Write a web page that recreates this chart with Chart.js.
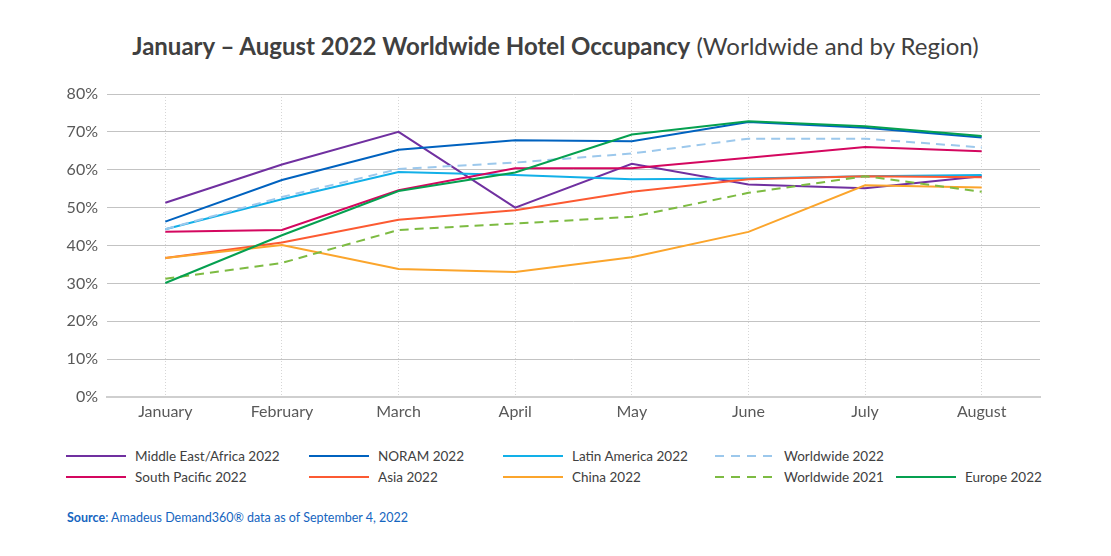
<!DOCTYPE html>
<html>
<head>
<meta charset="utf-8">
<script src="https://cdn.jsdelivr.net/npm/chart.js@4.4.0/dist/chart.umd.min.js"></script>
<style>
  body { margin: 0; background: #fff; }
  #wrap { position: relative; width: 1111px; height: 556px; font-family: Lato, "Open Sans", sans-serif; }
  #title { position: absolute; left: 0; top: 31px; width: 1111px; text-align: center; font-size: 24px; color: #404040; white-space: nowrap; }
  #title b { font-weight: 700; }
  #chart { position: absolute; left: 0; top: 0; }
  .lg { position: absolute; height: 20px; font-size: 13.5px; color: #404040; white-space: nowrap; line-height: 20px; }
  .lg span.sw { position: absolute; left: 0; top: 9px; width: 60px; height: 2px; }
  .lg span.tx { position: absolute; left: 69px; top: 0; }
  #source { position: absolute; left: 67px; top: 510px; font-size: 12.5px; color: #1565c0; }
</style>
</head>
<body>
<div id="wrap">
  <div id="title"><b>January – August 2022 Worldwide Hotel Occupancy</b> (Worldwide and by Region)</div>
  <canvas id="chart" width="1111" height="440"></canvas>
  <div id="legend"></div>
  <div id="source"><b>Source</b>: Amadeus Demand360® data as of September 4, 2022</div>
</div>
<script>
// months on the x axis
const months = ['January', 'February', 'March', 'April', 'May', 'June', 'July', 'August'];

// occupancy in %
const middleEastAfrica = [51.3, 61.4, 70.0, 50.0, 61.6, 56.1, 55.1, 58.3];
const noram = [46.3, 57.3, 65.3, 67.8, 67.5, 72.6, 71.1, 68.5];
const latinAmerica = [44.3, 52.2, 59.4, 58.6, 57.5, 57.7, 58.3, 58.6];
const worldwide2022 = [44.3, 52.8, 60.2, 61.9, 64.3, 68.2, 68.2, 65.9];
const southPacific = [43.6, 44.1, 54.6, 60.4, 60.4, 63.2, 66.0, 64.9];
const asia = [36.7, 40.8, 46.8, 49.3, 54.2, 57.5, 58.3, 58.0];
const china = [36.7, 40.1, 33.8, 33.0, 36.9, 43.6, 55.9, 55.3];
const worldwide2021 = [31.2, 35.4, 44.1, 45.8, 47.6, 53.9, 58.3, 54.2];
const europe = [30.1, 42.7, 54.4, 59.3, 69.3, 72.8, 71.5, 68.9];

const yTicks = [0, 10, 20, 30, 40, 50, 60, 70, 80];

const series = [
    { label: 'Middle East/Africa 2022', data: middleEastAfrica, color: '#7030a0', dash: [] },
    { label: 'NORAM 2022', data: noram, color: '#0062bf', dash: [] },
    { label: 'Latin America 2022', data: latinAmerica, color: '#12b0e8', dash: [] },
    { label: 'Worldwide 2022', data: worldwide2022, color: '#9cc8ec', dash: [9, 6] },
    { label: 'South Pacific 2022', data: southPacific, color: '#d4075f', dash: [] },
    { label: 'Asia 2022', data: asia, color: '#fc5a32', dash: [] },
    { label: 'China 2022', data: china, color: '#fba52c', dash: [] },
    { label: 'Worldwide 2021', data: worldwide2021, color: '#7dbb42', dash: [9, 6] },
    { label: 'Europe 2022', data: europe, color: '#05a050', dash: [] }
];

// legend grid: [column left, row top]
const legendCols = [66, 309, 503, 715, 896];
const legendRows = [446, 467];
const legendSlots = [[0,0],[1,0],[2,0],[3,0],[0,1],[1,1],[2,1],[3,1],[4,1]];

let ctx = document.getElementById('chart').getContext('2d');
let myChart = new Chart(ctx, {
    type: 'line',
    data: {
        labels: months,
        datasets: series.map((s, i) => ({
            label: s.label,
            data: s.data,
            borderColor: s.color,
            backgroundColor: s.color,
            borderDash: s.dash,
            borderWidth: 2,
            pointRadius: 0,
            tension: 0,
            order: series.length - i
        }))
    },
    options: {
        responsive: false,
        animation: false,
        layout: { padding: { left: 40, right: 71, top: 94, bottom: 13 } },
        plugins: {
            legend: { display: false },
            title: { display: false },
            tooltip: { enabled: false }
        },
        scales: {
            x: {
                offset: true,
                afterFit: (scale) => { scale.height = 30; },
                grid: { offset: false, color: '#d6d6d6', lineWidth: 1, drawTicks: false },
                border: { display: true, color: '#cfcfcf', width: 2, dash: [1, 2] },
                ticks: { color: '#595959', padding: 5, font: { family: 'Lato', size: 16 } }
            },
            y: {
                min: 0,
                max: 80,
                afterFit: (scale) => { scale.width = 67; },
                afterBuildTicks: (scale) => { scale.ticks = yTicks.map(v => ({ value: v })); },
                grid: { color: '#c3c3c3', lineWidth: 1, drawTicks: false },
                border: { display: false },
                ticks: {
                    color: '#595959',
                    padding: 9,
                    font: { family: 'Lato', size: 16 },
                    callback: (v) => v + '%'
                }
            }
        }
    }
});

// legend laid out in a fixed grid like the original
let legend = document.getElementById('legend');
series.forEach((s, i) => {
    let slot = legendSlots[i];
    let item = document.createElement('div');
    item.className = 'lg';
    item.style.left = legendCols[slot[0]] + 'px';
    item.style.top = legendRows[slot[1]] + 'px';
    let sw = document.createElement('span');
    sw.className = 'sw';
    sw.style.background = s.dash.length
        ? 'repeating-linear-gradient(to right, ' + s.color + ' 0 9px, transparent 9px 16px)'
        : s.color;
    let tx = document.createElement('span');
    tx.className = 'tx';
    tx.textContent = s.label;
    item.appendChild(sw);
    item.appendChild(tx);
    legend.appendChild(item);
});
</script>
</body>
</html>
